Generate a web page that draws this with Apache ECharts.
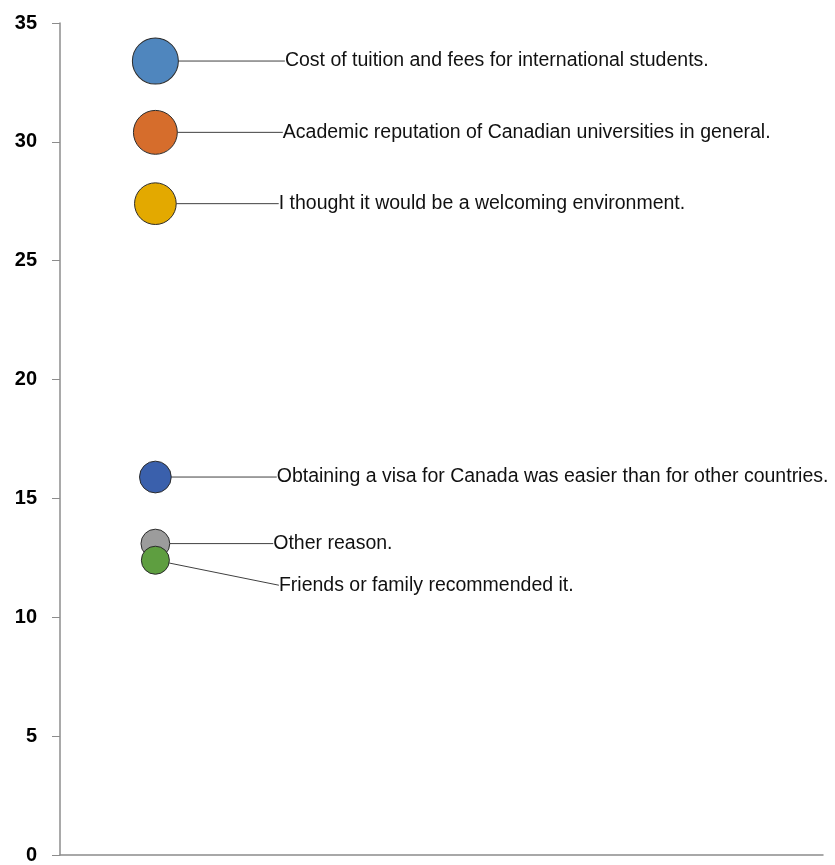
<!DOCTYPE html>
<html>
<head>
<meta charset="utf-8">
<script src="https://cdn.jsdelivr.net/npm/echarts@6/dist/echarts.min.js"></script>
<style>
html,body{margin:0;padding:0;background:#fff;}
#chart{width:835px;height:865px;}
</style>
</head>
<body>
<div id="chart"></div>
<script>
// ---- data ----
var reasons = [
  "Cost of tuition and fees for international students.",
  "Academic reputation of Canadian universities in general.",
  "I thought it would be a welcoming environment.",
  "Obtaining a visa for Canada was easier than for other countries.",
  "Other reason.",
  "Friends or family recommended it."
];
var xValues = [1, 1, 1, 1, 1, 1];
var percentValues = [33.4, 30.4, 27.4, 15.9, 13.1, 12.4];
var bubbleSizes = [33.4, 30.4, 27.4, 15.9, 13.1, 12.4];
var yTicks = [0, 5, 10, 15, 20, 25, 30, 35];

// ---- style ----
var colors = ["#4F86BE", "#D66D2C", "#E3A900", "#3A60AC", "#9C9C9C", "#5E9E40"];
var labelDx = [101, 100, 97, 100, 98, 104];
var labelDy = [0, 0, 0, 0, 0, 25];

var chart = echarts.init(document.getElementById('chart'));
var data = reasons.map(function (name, i) {
  return {
    name: name,
    value: [xValues[i], percentValues[i], bubbleSizes[i]],
    itemStyle: { color: colors[i] }
  };
});

chart.setOption({
  animation: false,
  grid: { left: 60, right: 12, top: 23, bottom: 9, containLabel: false },
  xAxis: {
    type: 'value', min: 0, max: 8, interval: 8,
    axisLine: { show: true, lineStyle: { color: '#8c8c8c', width: 1.5 } },
    axisTick: { show: false },
    axisLabel: { show: false },
    splitLine: { show: false }
  },
  yAxis: {
    type: 'value', min: yTicks[0], max: yTicks[yTicks.length - 1], interval: 5,
    axisLine: { show: true, lineStyle: { color: '#8c8c8c', width: 1.5 } },
    axisTick: { show: true, length: 8, lineStyle: { color: '#8c8c8c' } },
    axisLabel: {
      color: '#000', fontWeight: 'bold', fontSize: 20,
      fontFamily: '"Liberation Sans", Arial, sans-serif',
      margin: 23
    },
    splitLine: { show: false }
  },
  series: [{
    type: 'scatter',
    data: data,
    symbolSize: function (v) { return 7.96 * Math.sqrt(v[2]); },
    itemStyle: { borderColor: '#2b2b2b', borderWidth: 1, opacity: 1 },
    label: {
      show: true, position: 'right', distance: 5,
      formatter: '{b}', color: '#111', fontSize: 19.5,
      fontFamily: '"Liberation Sans", Arial, sans-serif'
    },
    labelLine: { show: true, lineStyle: { color: '#404040', width: 1 } },
    labelLayout: function (p) {
      return { dx: labelDx[p.dataIndex], dy: labelDy[p.dataIndex] };
    }
  }]
});
</script>
</body>
</html>
